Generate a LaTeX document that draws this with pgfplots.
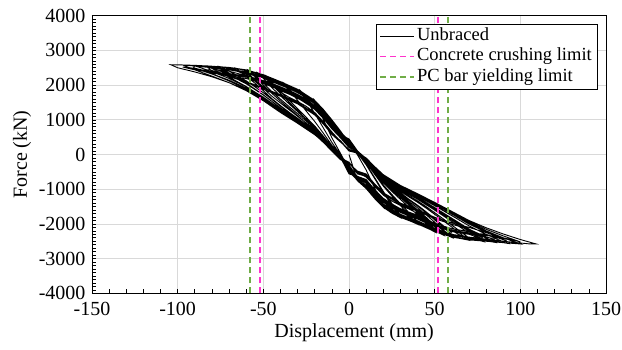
\documentclass[border=0pt]{standalone}
\usepackage{fontspec}
\setmainfont{Liberation Serif}
\usepackage{pgfplots}
\pgfplotsset{compat=1.18}
\definecolor{crush}{RGB}{255,51,204}
\definecolor{pcbar}{RGB}{112,173,71}
\definecolor{gridc}{RGB}{217,217,217}
\begin{document}
\begin{tikzpicture}
\path[use as bounding box] (-92pt,-55.7pt) rectangle (530pt,293.3pt);
\begin{axis}[
 scale only axis, width=514pt, height=277.6pt,
 xmin=-150, xmax=150, ymin=-4000, ymax=4000,
 xtick={-150,-100,...,150}, xticklabels={-150,-100,-50,0,50,100,150},
 ytick={-4000,-3000,...,4000},
 yticklabels={-4000,-3000,-2000,-1000,0,1000,2000,3000,4000},
 minor x tick num=4, minor y tick num=9,
 tick align=inside, xtick pos=bottom, ytick pos=left,
 major tick length=4pt, minor tick length=4pt,
 tick style={black, line width=0.6pt},
 grid=major, major grid style={gridc, line width=0.8pt},
 axis line style={black, line width=0.8pt},
 ticklabel style={font=\fontsize{20}{24}\selectfont},
 xticklabel style={yshift=-5pt},
 yticklabel style={xshift=-3pt},
 xlabel={Displacement (mm)}, ylabel={Force (kN)},
 label style={font=\fontsize{20}{24}\selectfont},
 xlabel style={at={(axis description cs:0.51,-0.143)}, anchor=center},
 ylabel style={at={(axis description cs:-0.136,0.5)}, anchor=center},
 legend style={at={(0.9825,0.97)}, anchor=north east, draw=black, fill=white,
   font=\fontsize{18.5}{21}\selectfont, inner xsep=3pt, inner ysep=1.5pt,
   nodes={inner xsep=2pt, inner ysep=1.5pt, text depth=4.5pt, text height=13pt}, row sep=0pt},
 legend cell align=left,
 legend image code/.code={\draw[#1] (0pt,0pt) -- (34pt,0pt);},
]
\addplot[black, line width=0.9pt] table[row sep=\\] {
x y\\
0 0\\ 5 -760\\ 10 -980\\ 15 -1270\\ 20 -1520\\
15 -968\\ 10 -445\\ 5 -15\\ 0 330\\ -5 680\\ -10 1000\\ -15 1300\\ -20 1560\\
-15 1011\\ -10 482\\ -5 38\\ 0 -430\\ 5 -760\\ 10 -980\\ 15 -1270\\ 20 -1520\\ 25 -1690\\ 30 -1820\\
25 -1460\\ 20 -1101\\ 15 -695\\ 10 -297\\ 5 37\\ 0 360\\ -5 660\\ -10 950\\ -15 1250\\ -20 1510\\ -25 1690\\ -28 1824\\
-25 1581\\ -20 1186\\ -15 768\\ -10 350\\ -5 -20\\ 0 -520\\ 5 -670\\ 10 -800\\ 15 -1090\\ 20 -1340\\ 25 -1600\\ 30 -1760\\
25 -1410\\ 20 -1061\\ 15 -665\\ 10 -277\\ 5 47\\ 0 250\\ -5 590\\ -10 820\\ -15 1120\\ -20 1380\\ -25 1620\\ -28 1764\\
-25 1581\\ -20 1186\\ -15 768\\ -10 350\\ -5 -9\\ 0 -400\\ 5 -740\\ 10 -930\\ 15 -1220\\ 20 -1470\\ 25 -1640\\ 30 -1770\\ 35 -1900\\ 40 -2010\\
35 -1740\\ 30 -1472\\ 25 -1195\\ 20 -911\\ 15 -572\\ 10 -230\\ 5 61\\ 0 300\\ -5 672\\ -10 980\\ -15 1280\\ -20 1540\\ -25 1720\\ -30 1860\\ -35 1980\\ -38 2060\\
-35 1869\\ -30 1560\\ -25 1254\\ -20 952\\ -15 616\\ -10 267\\ -5 -10\\ 0 -330\\ 5 -650\\ 10 -760\\ 15 -1050\\ 20 -1300\\ 25 -1470\\ 30 -1600\\ 35 -1800\\ 40 -1937\\
35 -1676\\ 30 -1417\\ 25 -1149\\ 20 -874\\ 15 -545\\ 10 -212\\ 5 70\\ 0 420\\ -5 570\\ -10 780\\ -15 1080\\ -20 1340\\ -25 1520\\ -30 1660\\ -35 1880\\ -38 1987\\
-35 1869\\ -30 1560\\ -25 1254\\ -20 952\\ -15 616\\ -10 267\\ -5 -39\\ 0 -460\\ 5 -752\\ 10 -960\\ 15 -1250\\ 20 -1500\\ 25 -1670\\ 30 -1800\\ 35 -1900\\ 40 -1990\\ 45 -2100\\ 50 -2230\\
45 -1976\\ 40 -1738\\ 35 -1518\\ 30 -1295\\ 25 -1061\\ 20 -815\\ 15 -510\\ 10 -196\\ 5 73\\ 0 390\\ -5 650\\ -10 920\\ -15 1220\\ -20 1480\\ -25 1660\\ -30 1800\\ -35 1920\\ -40 2020\\ -45 2180\\ -48 2260\\
-45 2083\\ -40 1822\\ -35 1568\\ -30 1322\\ -25 1073\\ -20 822\\ -15 531\\ -10 222\\ -5 -80\\ 0 -560\\ 5 -630\\ 10 -720\\ 15 -1010\\ 20 -1260\\ 25 -1430\\ 30 -1560\\ 35 -1660\\ 40 -1750\\ 45 -1990\\ 50 -2143\\
45 -1898\\ 40 -1668\\ 35 -1457\\ 30 -1243\\ 25 -1017\\ 20 -780\\ 15 -484\\ 10 -179\\ 5 82\\ 0 200\\ -5 480\\ -10 740\\ -15 1040\\ -20 1300\\ -25 1480\\ -30 1620\\ -35 1740\\ -40 1840\\ -45 2060\\ -48 2173\\
-45 2010\\ -40 1760\\ -35 1510\\ -30 1270\\ -25 1020\\ -20 770\\ -15 480\\ -10 170\\ -5 -110\\ 0 -230\\ 5 -560\\ 10 -630\\ 15 -920\\ 20 -1170\\ 25 -1340\\ 30 -1470\\ 35 -1570\\ 40 -1700\\ 45 -1900\\ 50 -2080\\
45 -1840\\ 40 -1620\\ 35 -1410\\ 30 -1200\\ 25 -980\\ 20 -750\\ 15 -460\\ 10 -160\\ 5 40\\ 0 100\\ -5 380\\ -10 650\\ -15 950\\ -20 1210\\ -25 1390\\ -30 1530\\ -35 1650\\ -40 1800\\ -45 1980\\ -48 2100\\
-45 2083\\ -40 1822\\ -35 1568\\ -30 1322\\ -25 1073\\ -20 822\\ -15 531\\ -10 222\\ -5 -55\\ 0 -380\\ 5 -730\\ 10 -900\\ 15 -1190\\ 20 -1440\\ 25 -1610\\ 30 -1740\\ 35 -1840\\ 40 -1930\\ 45 -2040\\ 50 -2200\\ 55 -2320\\
50 -2082\\ 45 -1849\\ 40 -1632\\ 35 -1431\\ 30 -1226\\ 25 -1008\\ 20 -778\\ 15 -485\\ 10 -183\\ 5 78\\ 0 280\\ -5 664\\ -10 960\\ -15 1260\\ -20 1520\\ -25 1700\\ -30 1840\\ -35 1960\\ -40 2060\\ -45 2160\\ -50 2270\\ -53 2348\\
-50 2196\\ -45 1926\\ -40 1691\\ -35 1461\\ -30 1236\\ -25 1008\\ -20 776\\ -15 501\\ -10 205\\ -5 -40\\ 0 -480\\ 5 -685\\ 10 -830\\ 15 -1120\\ 20 -1370\\ 25 -1540\\ 30 -1670\\ 35 -1770\\ 40 -1860\\ 45 -1970\\ 50 -2150\\ 55 -2270\\
50 -2037\\ 45 -1808\\ 40 -1596\\ 35 -1399\\ 30 -1199\\ 25 -985\\ 20 -760\\ 15 -471\\ 10 -174\\ 5 83\\ 0 380\\ -5 605\\ -10 850\\ -15 1150\\ -20 1410\\ -25 1590\\ -30 1730\\ -35 1850\\ -40 1950\\ -45 2050\\ -50 2220\\ -53 2298\\
-50 2196\\ -45 1926\\ -40 1691\\ -35 1461\\ -30 1236\\ -25 1008\\ -20 776\\ -15 501\\ -10 205\\ -5 -61\\ 0 -500\\ 5 -744\\ 10 -940\\ 15 -1230\\ 20 -1480\\ 25 -1650\\ 30 -1780\\ 35 -1880\\ 40 -1970\\ 45 -2080\\ 50 -2190\\ 55 -2280\\ 60 -2390\\
55 -2168\\ 50 -1951\\ 45 -1737\\ 40 -1538\\ 35 -1354\\ 30 -1165\\ 25 -962\\ 20 -744\\ 15 -464\\ 10 -171\\ 5 82\\ 0 350\\ -5 640\\ -10 900\\ -15 1200\\ -20 1460\\ -25 1640\\ -30 1780\\ -35 1900\\ -40 2000\\ -45 2100\\ -50 2200\\ -55 2350\\ -58 2416\\
-55 2298\\ -50 2063\\ -45 1813\\ -40 1596\\ -35 1383\\ -30 1175\\ -25 961\\ -20 742\\ -15 479\\ -10 193\\ -5 -40\\ 0 -380\\ 5 -640\\ 10 -740\\ 15 -1030\\ 20 -1280\\ 25 -1450\\ 30 -1580\\ 35 -1680\\ 40 -1770\\ 45 -1880\\ 50 -1990\\ 55 -2200\\ 60 -2310\\
55 -2095\\ 50 -1884\\ 45 -1677\\ 40 -1485\\ 35 -1307\\ 30 -1125\\ 25 -929\\ 20 -717\\ 15 -444\\ 10 -158\\ 5 89\\ 0 260\\ -5 530\\ -10 760\\ -15 1060\\ -20 1320\\ -25 1500\\ -30 1640\\ -35 1760\\ -40 1860\\ -45 1960\\ -50 2060\\ -55 2250\\ -58 2336\\
-55 2250\\ -50 2000\\ -45 1760\\ -40 1540\\ -35 1330\\ -30 1120\\ -25 900\\ -20 690\\ -15 430\\ -10 150\\ -5 -100\\ 0 -220\\ 5 -520\\ 10 -650\\ 15 -900\\ 20 -1120\\ 25 -1290\\ 30 -1420\\ 35 -1520\\ 40 -1610\\ 45 -1720\\ 50 -1850\\ 55 -2050\\ 60 -2250\\
55 -2050\\ 50 -1850\\ 45 -1650\\ 40 -1460\\ 35 -1290\\ 30 -1100\\ 25 -910\\ 20 -700\\ 15 -430\\ 10 -140\\ 5 60\\ 0 120\\ -5 400\\ -10 600\\ -15 900\\ -20 1160\\ -25 1340\\ -30 1480\\ -35 1600\\ -40 1700\\ -45 1800\\ -50 1950\\ -55 2150\\ -58 2300\\
-55 2298\\ -50 2063\\ -45 1813\\ -40 1596\\ -35 1383\\ -30 1175\\ -25 961\\ -20 742\\ -15 479\\ -10 193\\ -5 -65\\ 0 -420\\ 5 -720\\ 10 -880\\ 15 -1170\\ 20 -1420\\ 25 -1590\\ 30 -1720\\ 35 -1820\\ 40 -1910\\ 45 -2020\\ 50 -2130\\ 55 -2220\\ 60 -2290\\ 65 -2420\\ 70 -2470\\
65 -2280\\ 60 -2092\\ 55 -1907\\ 50 -1724\\ 45 -1544\\ 40 -1376\\ 35 -1222\\ 30 -1060\\ 25 -882\\ 20 -687\\ 15 -427\\ 10 -151\\ 5 89\\ 0 310\\ -5 668\\ -10 970\\ -15 1270\\ -20 1530\\ -25 1710\\ -30 1850\\ -35 1970\\ -40 2070\\ -45 2170\\ -50 2270\\ -55 2350\\ -60 2410\\ -66 2486\\
-60 2250\\ -55 2060\\ -50 1840\\ -45 1610\\ -40 1410\\ -35 1220\\ -30 1030\\ -25 840\\ -20 640\\ -15 400\\ -10 130\\ -5 -20\\ 0 -300\\ 5 -660\\ 10 -780\\ 15 -1070\\ 20 -1320\\ 25 -1490\\ 30 -1620\\ 35 -1720\\ 40 -1810\\ 45 -1920\\ 50 -2030\\ 55 -2120\\ 60 -2190\\ 65 -2330\\ 70 -2403\\
65 -2218\\ 60 -2035\\ 55 -1854\\ 50 -1676\\ 45 -1501\\ 40 -1338\\ 35 -1188\\ 30 -1031\\ 25 -858\\ 20 -668\\ 15 -413\\ 10 -141\\ 5 94\\ 0 430\\ -5 580\\ -10 800\\ -15 1100\\ -20 1360\\ -25 1540\\ -30 1680\\ -35 1800\\ -40 1900\\ -45 2000\\ -50 2100\\ -55 2180\\ -60 2330\\ -66 2419\\
-60 2290\\ -55 2117\\ -50 1907\\ -45 1679\\ -40 1484\\ -35 1292\\ -30 1102\\ -25 906\\ -20 703\\ -15 454\\ -10 179\\ -5 -70\\ 0 -450\\ 5 -748\\ 10 -950\\ 15 -1240\\ 20 -1490\\ 25 -1660\\ 30 -1790\\ 35 -1890\\ 40 -1980\\ 45 -2090\\ 50 -2200\\ 55 -2290\\ 60 -2360\\ 65 -2410\\ 70 -2440\\ 75 -2460\\ 78 -2502\\
70 -2267\\ 60 -1931\\ 50 -1602\\ 40 -1289\\ 30 -1003\\ 20 -656\\ 15 -406\\ 10 -140\\ 5 93\\ 0 400\\ -5 652\\ -10 930\\ -15 1230\\ -20 1490\\ -30 1810\\ -40 2030\\ -50 2230\\ -60 2370\\ -70 2480\\ -75 2530\\
-70 2404\\ -60 2125\\ -50 1781\\ -40 1394\\ -30 1044\\ -20 671\\ -15 433\\ -10 168\\ -5 -60\\ 0 -500\\ 5 -675\\ 10 -810\\ 15 -1100\\ 20 -1350\\ 30 -1650\\ 40 -1840\\ 50 -2060\\ 60 -2220\\ 70 -2300\\ 75 -2380\\ 78 -2445\\
70 -2216\\ 60 -1887\\ 50 -1565\\ 40 -1260\\ 30 -981\\ 20 -641\\ 15 -395\\ 10 -133\\ 5 97\\ 0 300\\ -5 595\\ -10 830\\ -15 1130\\ -20 1390\\ -30 1710\\ -40 1930\\ -50 2130\\ -60 2270\\ -70 2400\\ -75 2473\\
-70 2350\\ -60 2060\\ -50 1720\\ -40 1340\\ -30 990\\ -20 620\\ -15 380\\ -10 110\\ -5 -130\\ 0 -240\\ 5 -500\\ 10 -600\\ 15 -890\\ 20 -1140\\ 30 -1440\\ 40 -1630\\ 50 -1850\\ 60 -2010\\ 70 -2150\\ 75 -2280\\ 78 -2400\\
70 -2180\\ 60 -1850\\ 50 -1530\\ 40 -1230\\ 30 -960\\ 20 -630\\ 15 -380\\ 10 -120\\ 5 40\\ 0 110\\ -5 380\\ -10 620\\ -15 920\\ -20 1180\\ -30 1500\\ -40 1720\\ -50 1920\\ -60 2100\\ -70 2330\\ -75 2430\\
-70 2404\\ -60 2125\\ -50 1781\\ -40 1394\\ -30 1044\\ -20 671\\ -15 433\\ -10 168\\ -5 -74\\ 0 -390\\ 5 -732\\ 10 -910\\ 15 -1200\\ 20 -1450\\ 30 -1750\\ 40 -1940\\ 50 -2160\\ 60 -2320\\ 70 -2400\\ 80 -2490\\ 85 -2530\\
80 -2411\\ 70 -2147\\ 60 -1836\\ 50 -1529\\ 40 -1237\\ 30 -969\\ 20 -638\\ 15 -394\\ 10 -133\\ 5 95\\ 0 340\\ -5 676\\ -10 990\\ -15 1290\\ -20 1550\\ -30 1870\\ -40 2090\\ -50 2290\\ -60 2430\\ -70 2500\\ -80 2535\\ -82 2550\\
-80 2480\\ -70 2230\\ -60 1960\\ -50 1640\\ -40 1270\\ -30 940\\ -20 590\\ -15 370\\ -10 120\\ -5 -50\\ 0 -360\\ 5 -635\\ 10 -730\\ 15 -1020\\ 20 -1270\\ 30 -1570\\ 40 -1760\\ 50 -1980\\ 60 -2140\\ 70 -2220\\ 80 -2370\\ 85 -2447\\
80 -2380\\ 70 -2150\\ 60 -1850\\ 50 -1550\\ 40 -1270\\ 30 -1000\\ 20 -670\\ 15 -420\\ 10 -150\\ 5 100\\ 0 220\\ -5 555\\ -10 750\\ -15 1050\\ -20 1310\\ -30 1630\\ -40 1850\\ -50 2050\\ -60 2190\\ -70 2260\\ -80 2420\\ -82 2467\\
-80 2512\\ -70 2292\\ -60 2037\\ -50 1714\\ -40 1346\\ -30 1012\\ -20 654\\ -15 422\\ -10 162\\ -5 -76\\ 0 -470\\ 5 -756\\ 10 -970\\ 15 -1260\\ 20 -1510\\ 30 -1810\\ 40 -2000\\ 50 -2220\\ 60 -2380\\ 70 -2460\\ 80 -2500\\ 90 -2540\\ 92 -2556\\
90 -2516\\ 80 -2300\\ 70 -2055\\ 60 -1763\\ 50 -1474\\ 40 -1197\\ 30 -944\\ 20 -624\\ 15 -385\\ 10 -128\\ 5 97\\ 0 290\\ -5 656\\ -10 940\\ -15 1240\\ -20 1500\\ -30 1820\\ -40 2040\\ -50 2240\\ -60 2380\\ -70 2450\\ -80 2515\\ -90 2555\\ -91 2572\\
-90 2557\\ -80 2388\\ -70 2191\\ -60 1956\\ -50 1653\\ -40 1302\\ -30 984\\ -20 639\\ -15 412\\ -10 156\\ -5 -90\\ 0 -540\\ 5 -655\\ 10 -770\\ 15 -1060\\ 20 -1310\\ 30 -1610\\ 40 -1800\\ 50 -2020\\ 60 -2180\\ 70 -2260\\ 80 -2300\\ 88 -2420\\ 92 -2486\\
90 -2448\\ 80 -2239\\ 70 -2002\\ 60 -1717\\ 50 -1436\\ 40 -1167\\ 30 -921\\ 20 -609\\ 15 -374\\ 10 -120\\ 5 101\\ 0 450\\ -5 575\\ -10 790\\ -15 1090\\ -20 1350\\ -30 1670\\ -40 1890\\ -50 2090\\ -60 2230\\ -70 2300\\ -80 2340\\ -87 2450\\ -91 2502\\
-90 2480\\ -80 2320\\ -70 2120\\ -60 1890\\ -50 1590\\ -40 1240\\ -30 920\\ -20 580\\ -15 350\\ -10 100\\ -5 -150\\ 0 -260\\ 5 -480\\ 10 -560\\ 15 -850\\ 20 -1100\\ 30 -1400\\ 40 -1590\\ 50 -1810\\ 60 -1970\\ 70 -2100\\ 80 -2250\\ 88 -2380\\ 92 -2440\\
90 -2400\\ 80 -2200\\ 70 -1960\\ 60 -1680\\ 50 -1400\\ 40 -1130\\ 30 -890\\ 20 -580\\ 15 -350\\ 10 -100\\ 5 60\\ 0 150\\ -5 360\\ -10 580\\ -15 880\\ -20 1140\\ -30 1460\\ -40 1680\\ -50 1880\\ -60 2080\\ -70 2250\\ -80 2380\\ -87 2450\\ -91 2480\\
-90 2557\\ -80 2388\\ -70 2191\\ -60 1956\\ -50 1653\\ -40 1302\\ -30 984\\ -20 639\\ -15 412\\ -10 156\\ -5 -78\\ 0 -410\\ 5 -736\\ 10 -920\\ 15 -1210\\ 20 -1460\\ 30 -1760\\ 40 -1950\\ 50 -2170\\ 60 -2330\\ 70 -2410\\ 80 -2460\\ 90 -2540\\ 100 -2578\\
90 -2399\\ 80 -2202\\ 70 -1975\\ 60 -1699\\ 50 -1425\\ 40 -1162\\ 30 -921\\ 20 -611\\ 15 -377\\ 10 -124\\ 5 98\\ 0 370\\ -5 644\\ -10 910\\ -15 1210\\ -20 1470\\ -30 1790\\ -40 2010\\ -50 2210\\ -60 2350\\ -70 2440\\ -80 2500\\ -90 2550\\ -97 2580\\
-90 2440\\ -80 2260\\ -70 2070\\ -60 1840\\ -50 1550\\ -40 1210\\ -30 900\\ -20 570\\ -15 360\\ -10 110\\ -5 -60\\ 0 -470\\ 5 -670\\ 10 -800\\ 15 -1090\\ 20 -1340\\ 30 -1640\\ 40 -1830\\ 50 -2050\\ 60 -2210\\ 70 -2290\\ 80 -2330\\ 90 -2400\\ 95 -2460\\ 100 -2518\\
90 -2345\\ 80 -2154\\ 70 -1933\\ 60 -1663\\ 50 -1395\\ 40 -1138\\ 30 -903\\ 20 -599\\ 15 -368\\ 10 -118\\ 5 101\\ 0 280\\ -5 590\\ -10 820\\ -15 1120\\ -20 1380\\ -30 1700\\ -40 1920\\ -50 2120\\ -60 2260\\ -70 2330\\ -80 2370\\ -90 2440\\ -97 2520\\
-90 2484\\ -80 2327\\ -70 2141\\ -60 1916\\ -50 1623\\ -40 1281\\ -30 970\\ -20 631\\ -15 407\\ -10 154\\ -5 -79\\ 0 -440\\ 5 -724\\ 10 -890\\ 15 -1180\\ 20 -1430\\ 30 -1730\\ 40 -1920\\ 50 -2140\\ 60 -2300\\ 70 -2380\\ 80 -2440\\ 90 -2500\\ 100 -2550\\ 105 -2575\\ 109 -2575\\
100 -2450\\ 90 -2290\\ 80 -2110\\ 70 -1900\\ 60 -1640\\ 50 -1380\\ 40 -1130\\ 30 -900\\ 20 -600\\ 15 -370\\ 10 -120\\ 5 100\\ 0 330\\ -5 680\\ -10 1000\\ -15 1300\\ -20 1560\\ -30 1880\\ -40 2100\\ -50 2300\\ -60 2440\\ -70 2510\\ -80 2545\\ -90 2570\\ -100 2584\\ -104 2588\\
-100 2500\\ -90 2380\\ -80 2240\\ -70 2070\\ -60 1860\\ -50 1580\\ -40 1250\\ -30 950\\ -20 620\\ -15 400\\ -10 150\\ -5 -80\\ 0 -430\\ 5 -760\\ 10 -980\\ 15 -1270\\ 20 -1520\\
};
\addlegendentry{Unbraced}
\addplot[crush, dash pattern=on 6pt off 4pt, line width=1.8pt] coordinates {(-52,-4000) (-52,4000)};
\addlegendentry{Concrete crushing limit}
\addplot[crush, dash pattern=on 6pt off 4pt, line width=1.8pt, forget plot] coordinates {(52,-4000) (52,4000)};
\addplot[pcbar, dash pattern=on 6pt off 4pt, line width=1.8pt] coordinates {(-58,-4000) (-58,4000)};
\addlegendentry{PC bar yielding limit}
\addplot[pcbar, dash pattern=on 6pt off 4pt, line width=1.8pt, forget plot] coordinates {(58,-4000) (58,4000)};
\end{axis}
\end{tikzpicture}
\end{document}
